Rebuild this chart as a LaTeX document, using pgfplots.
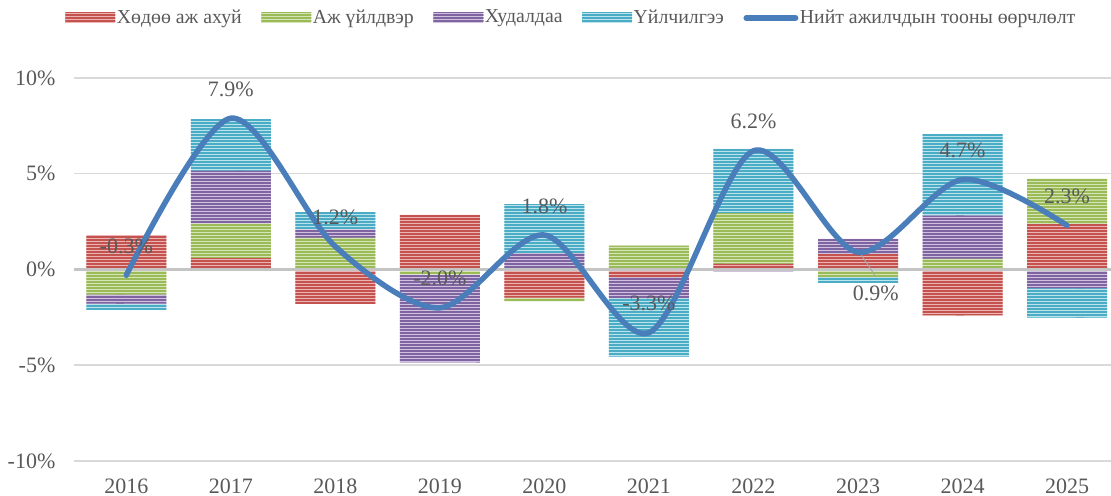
\documentclass[border=0pt]{standalone}
\usepackage{fontspec}
\setmainfont{Liberation Serif}
\usepackage{pgfplots}
\pgfplotsset{compat=1.18}
\usepackage{pgfplotstable}
\usetikzlibrary{patterns}

\definecolor{redD}{HTML}{C4524F} \definecolor{redL}{HTML}{EBB3B1}
\definecolor{grnD}{HTML}{9BBB59} \definecolor{grnL}{HTML}{D6E5B8}
\definecolor{purD}{HTML}{8064A2} \definecolor{purL}{HTML}{CFC2DF}
\definecolor{cyaD}{HTML}{4BACC6} \definecolor{cyaL}{HTML}{BCE2EC}
\definecolor{lineB}{HTML}{4A7EBB}
\definecolor{txt}{HTML}{595959}
\definecolor{gridG}{HTML}{D9D9D9}
\definecolor{zeroG}{HTML}{C4C4C4}

% wide horizontal stripes; bounding box overlaps the step so tile seams are covered
\pgfdeclarepatternformonly{hstripes}{\pgfqpoint{-2pt}{0pt}}{\pgfqpoint{62pt}{1.5pt}}{\pgfqpoint{60pt}{1.5pt}}{%
  \pgfpathrectangle{\pgfqpoint{-2pt}{0.2pt}}{\pgfqpoint{64pt}{1.0pt}}\pgfusepath{fill}}

% positive and negative parts of each sector (percentage points)
\pgfplotstableread{
x rp   gp   pp   cp   rn    gn    pn    cn
0 1.8  0    0    0    0     -1.3  -0.48 -0.33
1 0.6  1.8  2.75 2.7  0     0     0     0
2 0    1.65 0.45 0.9  -1.8  0     0     0
3 2.85 0    0    0    0     -0.27 -4.58 0
4 0    0    0.85 2.57 -1.47 -0.19 0     0
5 0    1.25 0    0    -0.4  0     -1.1  -3.05
6 0.3  2.65 0    3.35 0     0     -0.12 0
7 0.8  0    0.8  0    0     -0.38 0     -0.32
8 0    0.56 2.25 4.26 -2.4  0     0     0
9 2.38 2.36 0    0    0     0     -0.97 -1.54
}\data

\pgfplotsset{
  base/.style={scale only axis, width=518.5pt, height=191.5pt,
    xmin=-0.5, xmax=9.42, ymin=-10, ymax=10},
  stripes/.style 2 args={fill=#2, draw=none,
    postaction={pattern=hstripes, pattern color=#1}},
  barleg/.style={legend image code/.code={\path[##1] (0pt,-2.5pt) rectangle (25pt,2.5pt);}},
  lineleg/.style={legend image code/.code={\draw[##1, line cap=round] (0.8pt,0pt) -- (25.5pt,0pt);}},
}

\begin{document}
\begin{tikzpicture}
% positive stacks + grid + ticks
\begin{axis}[base, name=ax, ybar stacked, bar width=40pt,
  axis line style={draw=none}, tick style={draw=none},
  ytick={-10,-5,0,5,10},
  yticklabel={\pgfmathprintnumber[assume math mode=true]{\tick}\%},
  xtick={0,1,2,3,4,5,6,7,8,9},
  xticklabels={2016,2017,2018,2019,2020,2021,2022,2023,2024,2025},
  ymajorgrids, grid style={draw=gridG, line width=0.75pt},
  tick label style={font=\fontsize{11}{13}\selectfont, text=txt},
  yticklabel style={xshift=-5.8pt}, xticklabel style={yshift=-5.3pt}]
\addplot[stripes={redD}{redL}] table[x=x,y=rp]{\data};
\addplot[stripes={grnD}{grnL}] table[x=x,y=gp]{\data};
\addplot[stripes={purD}{purL}] table[x=x,y=pp]{\data};
\addplot[stripes={cyaD}{cyaL}] table[x=x,y=cp]{\data};
\end{axis}
% negative stacks
\begin{axis}[base, hide axis, ybar stacked, bar width=40pt]
\addplot[stripes={redD}{redL}] table[x=x,y=rn]{\data};
\addplot[stripes={grnD}{grnL}] table[x=x,y=gn]{\data};
\addplot[stripes={purD}{purL}] table[x=x,y=pn]{\data};
\addplot[stripes={cyaD}{cyaL}] table[x=x,y=cn]{\data};
\end{axis}
% zero line, total line, labels, legend
\begin{axis}[base, hide axis,
  legend columns=5,
  legend style={at={(-0.0087,1.1567)}, anchor=west, draw=none, fill=none,
    font=\fontsize{9.9}{11}\selectfont, text=txt, inner sep=0pt,
    nodes={inner xsep=0.75pt, inner ysep=0pt},
    /tikz/every even column/.append style={column sep=9pt}}]
\addlegendimage{barleg, stripes={redD}{redL}}
\addlegendentry{Хөдөө аж ахуй}
\addlegendimage{barleg, stripes={grnD}{grnL}}
\addlegendentry{Аж үйлдвэр}
\addlegendimage{barleg, stripes={purD}{purL}}
\addlegendentry{Худалдаа}
\addlegendimage{barleg, stripes={cyaD}{cyaL}}
\addlegendentry{Үйлчилгээ}
\addlegendimage{lineleg, lineB, line width=2.75pt}
\addlegendentry{Нийт ажилчдын тооны өөрчлөлт}
\addplot[zeroG, line width=1.5pt, forget plot] coordinates {(-0.5,0) (9.42,0)};
\draw[gray!70, line width=0.5pt] (axis cs:7.02,0.85) -- (axis cs:7.16,-0.3);
\addplot[lineB, line width=2.75pt, smooth, line cap=round, forget plot,
  nodes near coords, point meta=explicit symbolic,
  every node near coord/.append style={anchor=center, yshift=14.5pt, text=txt,
    font=\fontsize{11}{13}\selectfont}]
  coordinates {(0,-0.3) [-0.3\%] (1,7.9) [7.9\%] (2,1.2) [1.2\%] (3,-2.0) [-2.0\%]
    (4,1.8) [1.8\%] (5,-3.3) [-3.3\%] (6,6.2) [6.2\%] (7,0.9) [\mbox{}]
    (8,4.7) [4.7\%] (9,2.3) [2.3\%]};
\node[text=txt, font=\fontsize{11}{13}\selectfont] at (axis cs:7.17,-1.25) {0.9\%};
\end{axis}
\pgfresetboundingbox
\useasboundingbox ([shift={(-37pt,-17.5pt)}]ax.south west) rectangle ([yshift=39pt]ax.north east);
\end{tikzpicture}
\end{document}
